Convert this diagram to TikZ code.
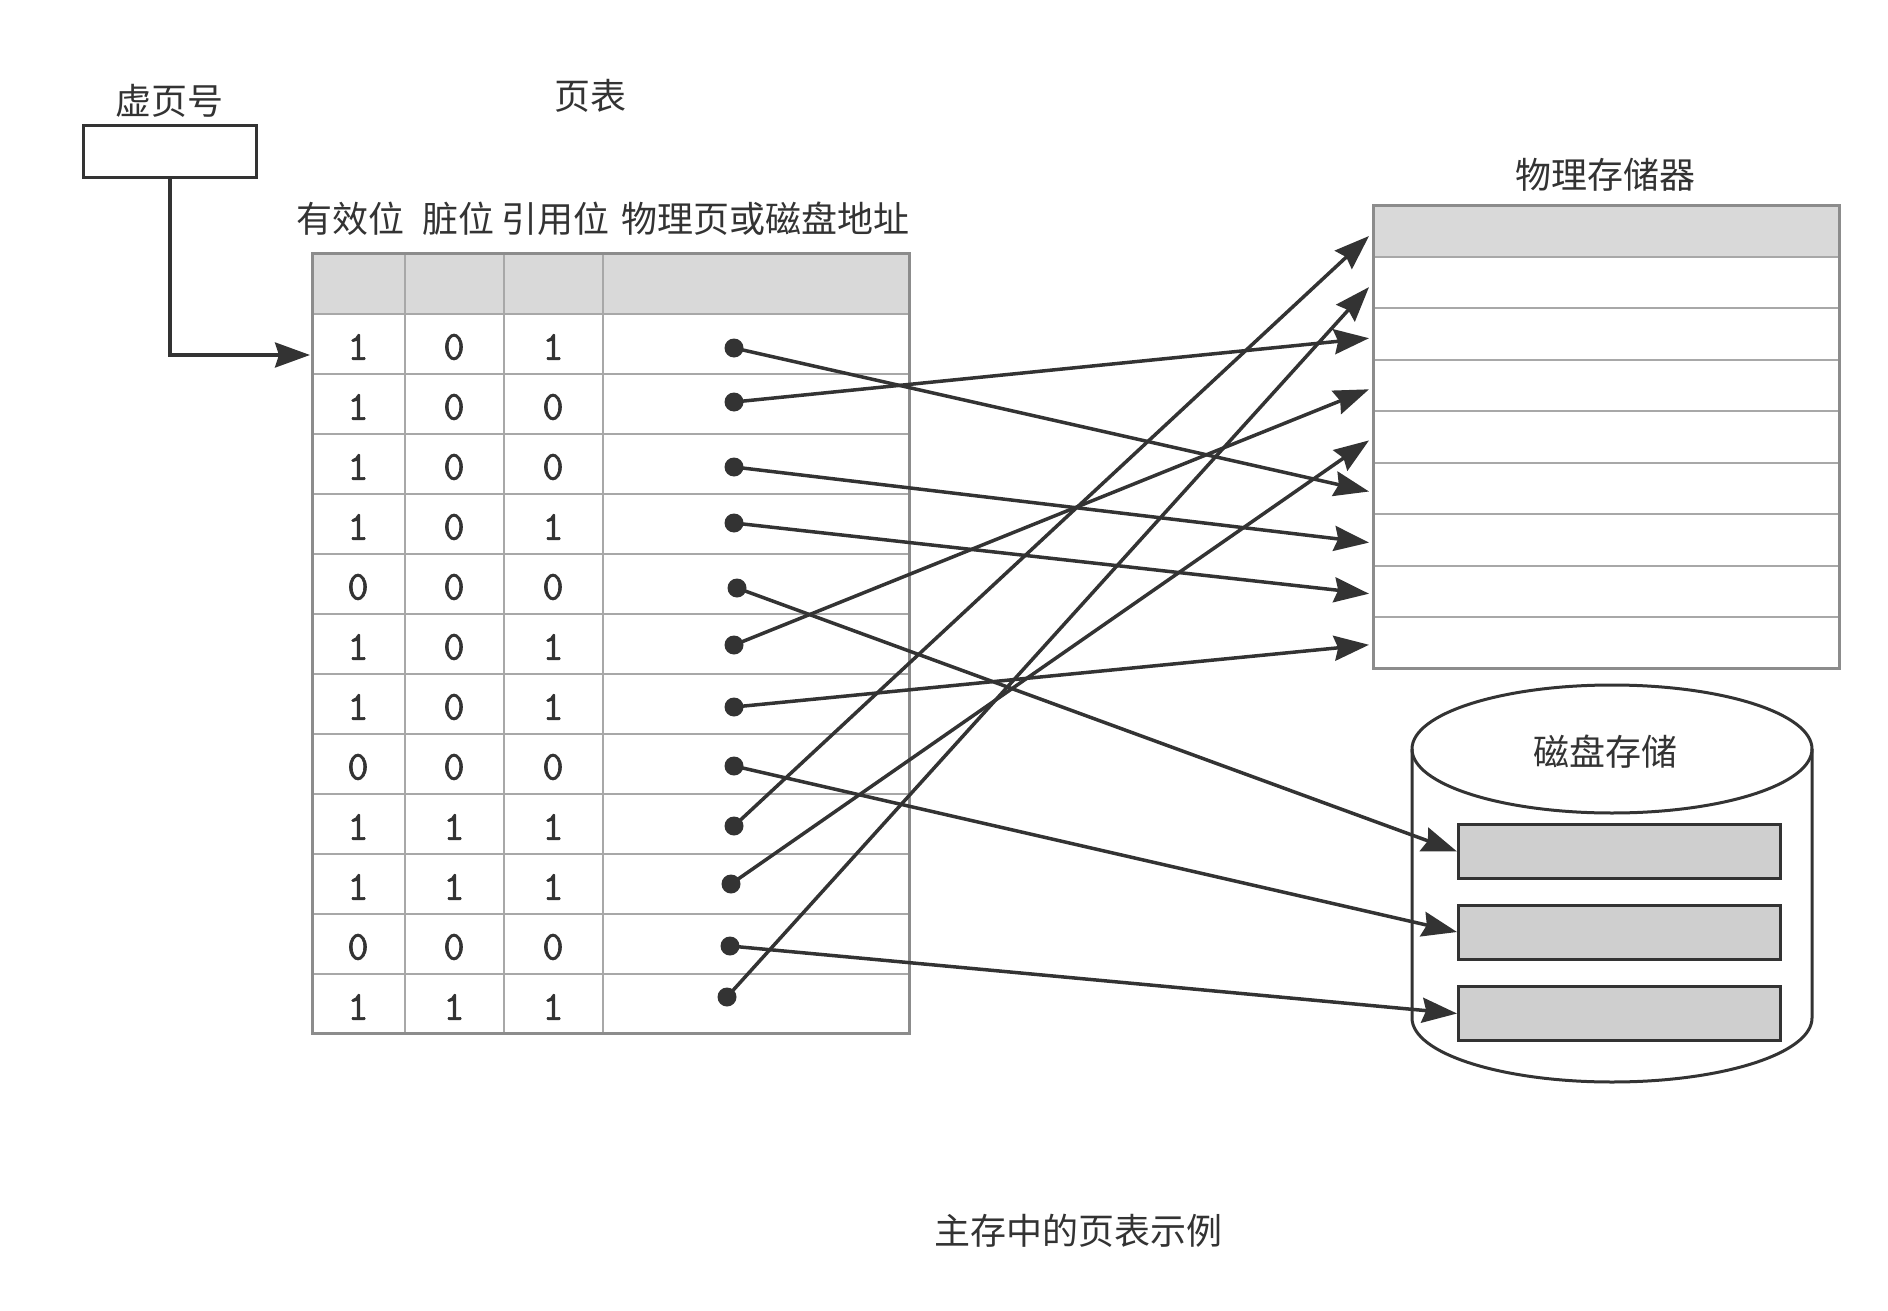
\documentclass[tikz,border=0pt]{standalone}
\usepackage{fontspec}
\newfontfamily\cjk{Noto Sans CJK SC}
\newfontfamily\bitfont[FakeBold=1.6]{Latin Modern Mono}
\usepackage{tikz}
\usetikzlibrary{arrows.meta,calc}

\definecolor{ink}{HTML}{333333}
\definecolor{rule}{HTML}{8C8C8C}
\definecolor{thinrule}{HTML}{A8A8A8}
\definecolor{hdr}{HTML}{D9D9D9}
\definecolor{blk}{HTML}{CFCFCF}

\begin{document}
\begin{tikzpicture}[x=1pt,y=-1pt,
  lbl/.style={font=\cjk\fontsize{36}{40}\selectfont,text=ink,inner sep=0pt},
  bit/.style={font=\bitfont\fontsize{41}{44}\selectfont,text=ink,inner sep=0pt},
  dot/.style={circle,fill=ink,minimum size=19pt,inner sep=0pt},
  link/.style={ink,line width=3.5pt,-{Stealth[length=35pt,width=25pt,inset=4pt]}},
  blkbox/.style={draw=ink,fill=blk,line width=3pt,minimum width=322pt,minimum height=54pt,inner sep=0pt}]
\useasboundingbox (0,0) rectangle (1888,1311);

\node[lbl] (vpnlbl) at (169,101) {虚页号};
\node[draw=ink,line width=3pt,minimum width=173pt,minimum height=52pt,inner sep=0pt] (vpn) at (170,151.5) {};
\node[lbl] (ptlbl) at (590,96) {页表};

\node[lbl] (h1) at (350,219) {有效位};
\node[lbl] (h2) at (458,219) {脏位};
\node[lbl] (h3) at (555,219) {引用位};
\node[lbl] (h4) at (765,219) {物理页或磁盘地址};

\fill[hdr] (312,253) rectangle (909,314);
\foreach \k in {0,...,11}
  \draw[thinrule,line width=2pt] (312,{314+60*\k}) -- (909,{314+60*\k});
\foreach \x in {405,504,603}
  \draw[thinrule,line width=2pt] (\x,253) -- (\x,1033);
\draw[rule,line width=3pt] (312,253) rectangle (909,1033);

\foreach \a/\b/\c [count=\i] in {1/0/1,1/0/0,1/0/0,1/0/1,0/0/0,1/0/1,1/0/1,0/0/0,1/1/1,1/1/1,0/0/0,1/1/1}{
  \node[bit] (v\i) at (358,{287+60*\i}) {\a};
  \node[bit] (w\i) at (454,{287+60*\i}) {\b};
  \node[bit] (r\i) at (553,{287+60*\i}) {\c};
}
\foreach \x/\y [count=\i] in {734/348,734/402,734/467,734/523,737/588,734/645,734/707,734/766,734/826,731/884,730/946,727/997}
  \node[dot] (d\i) at (\x,\y) {};

\coordinate (tin) at (310,355);
\draw[link] (vpn.south) |- (tin);

\node[lbl] (memlbl) at (1605,175) {物理存储器};
\fill[hdr] (1373,205) rectangle (1839,256.5);
\foreach \k in {1,...,8}
  \draw[thinrule,line width=2pt] (1373,{205+51.5*\k}) -- (1839,{205+51.5*\k});
\draw[rule,line width=3pt] (1373,205) rectangle (1839,668.5);
\foreach \k in {0,...,8}
  \coordinate (m\k) at (1369,{236+51.1*\k});

\draw[ink,line width=3pt] (1412,749) -- (1412,1018)
  .. controls (1412,1053.35) and (1501.5,1082) .. (1612,1082)
  .. controls (1722.5,1082) and (1812,1053.35) .. (1812,1018) -- (1812,749);
\draw[ink,line width=3pt] (1612,749) ellipse [x radius=200,y radius=64];
\node[lbl] (disklbl) at (1605,752) {磁盘存储};
\node[blkbox] (b1) at (1619.5,851.5) {};
\node[blkbox] (b2) at (1619.5,932) {};
\node[blkbox] (b3) at (1619.5,1013.5) {};

\foreach \s/\t in {1/m5,2/m2,3/m6,4/m7,5/b1.west,6/m3,7/m8,8/b2.west,9/m0,10/m4,11/b3.west,12/m1}
  \draw[link] (d\s.center) -- (\t);

\node[lbl] (caption) at (1078,1231) {主存中的页表示例};
\end{tikzpicture}
\end{document}
